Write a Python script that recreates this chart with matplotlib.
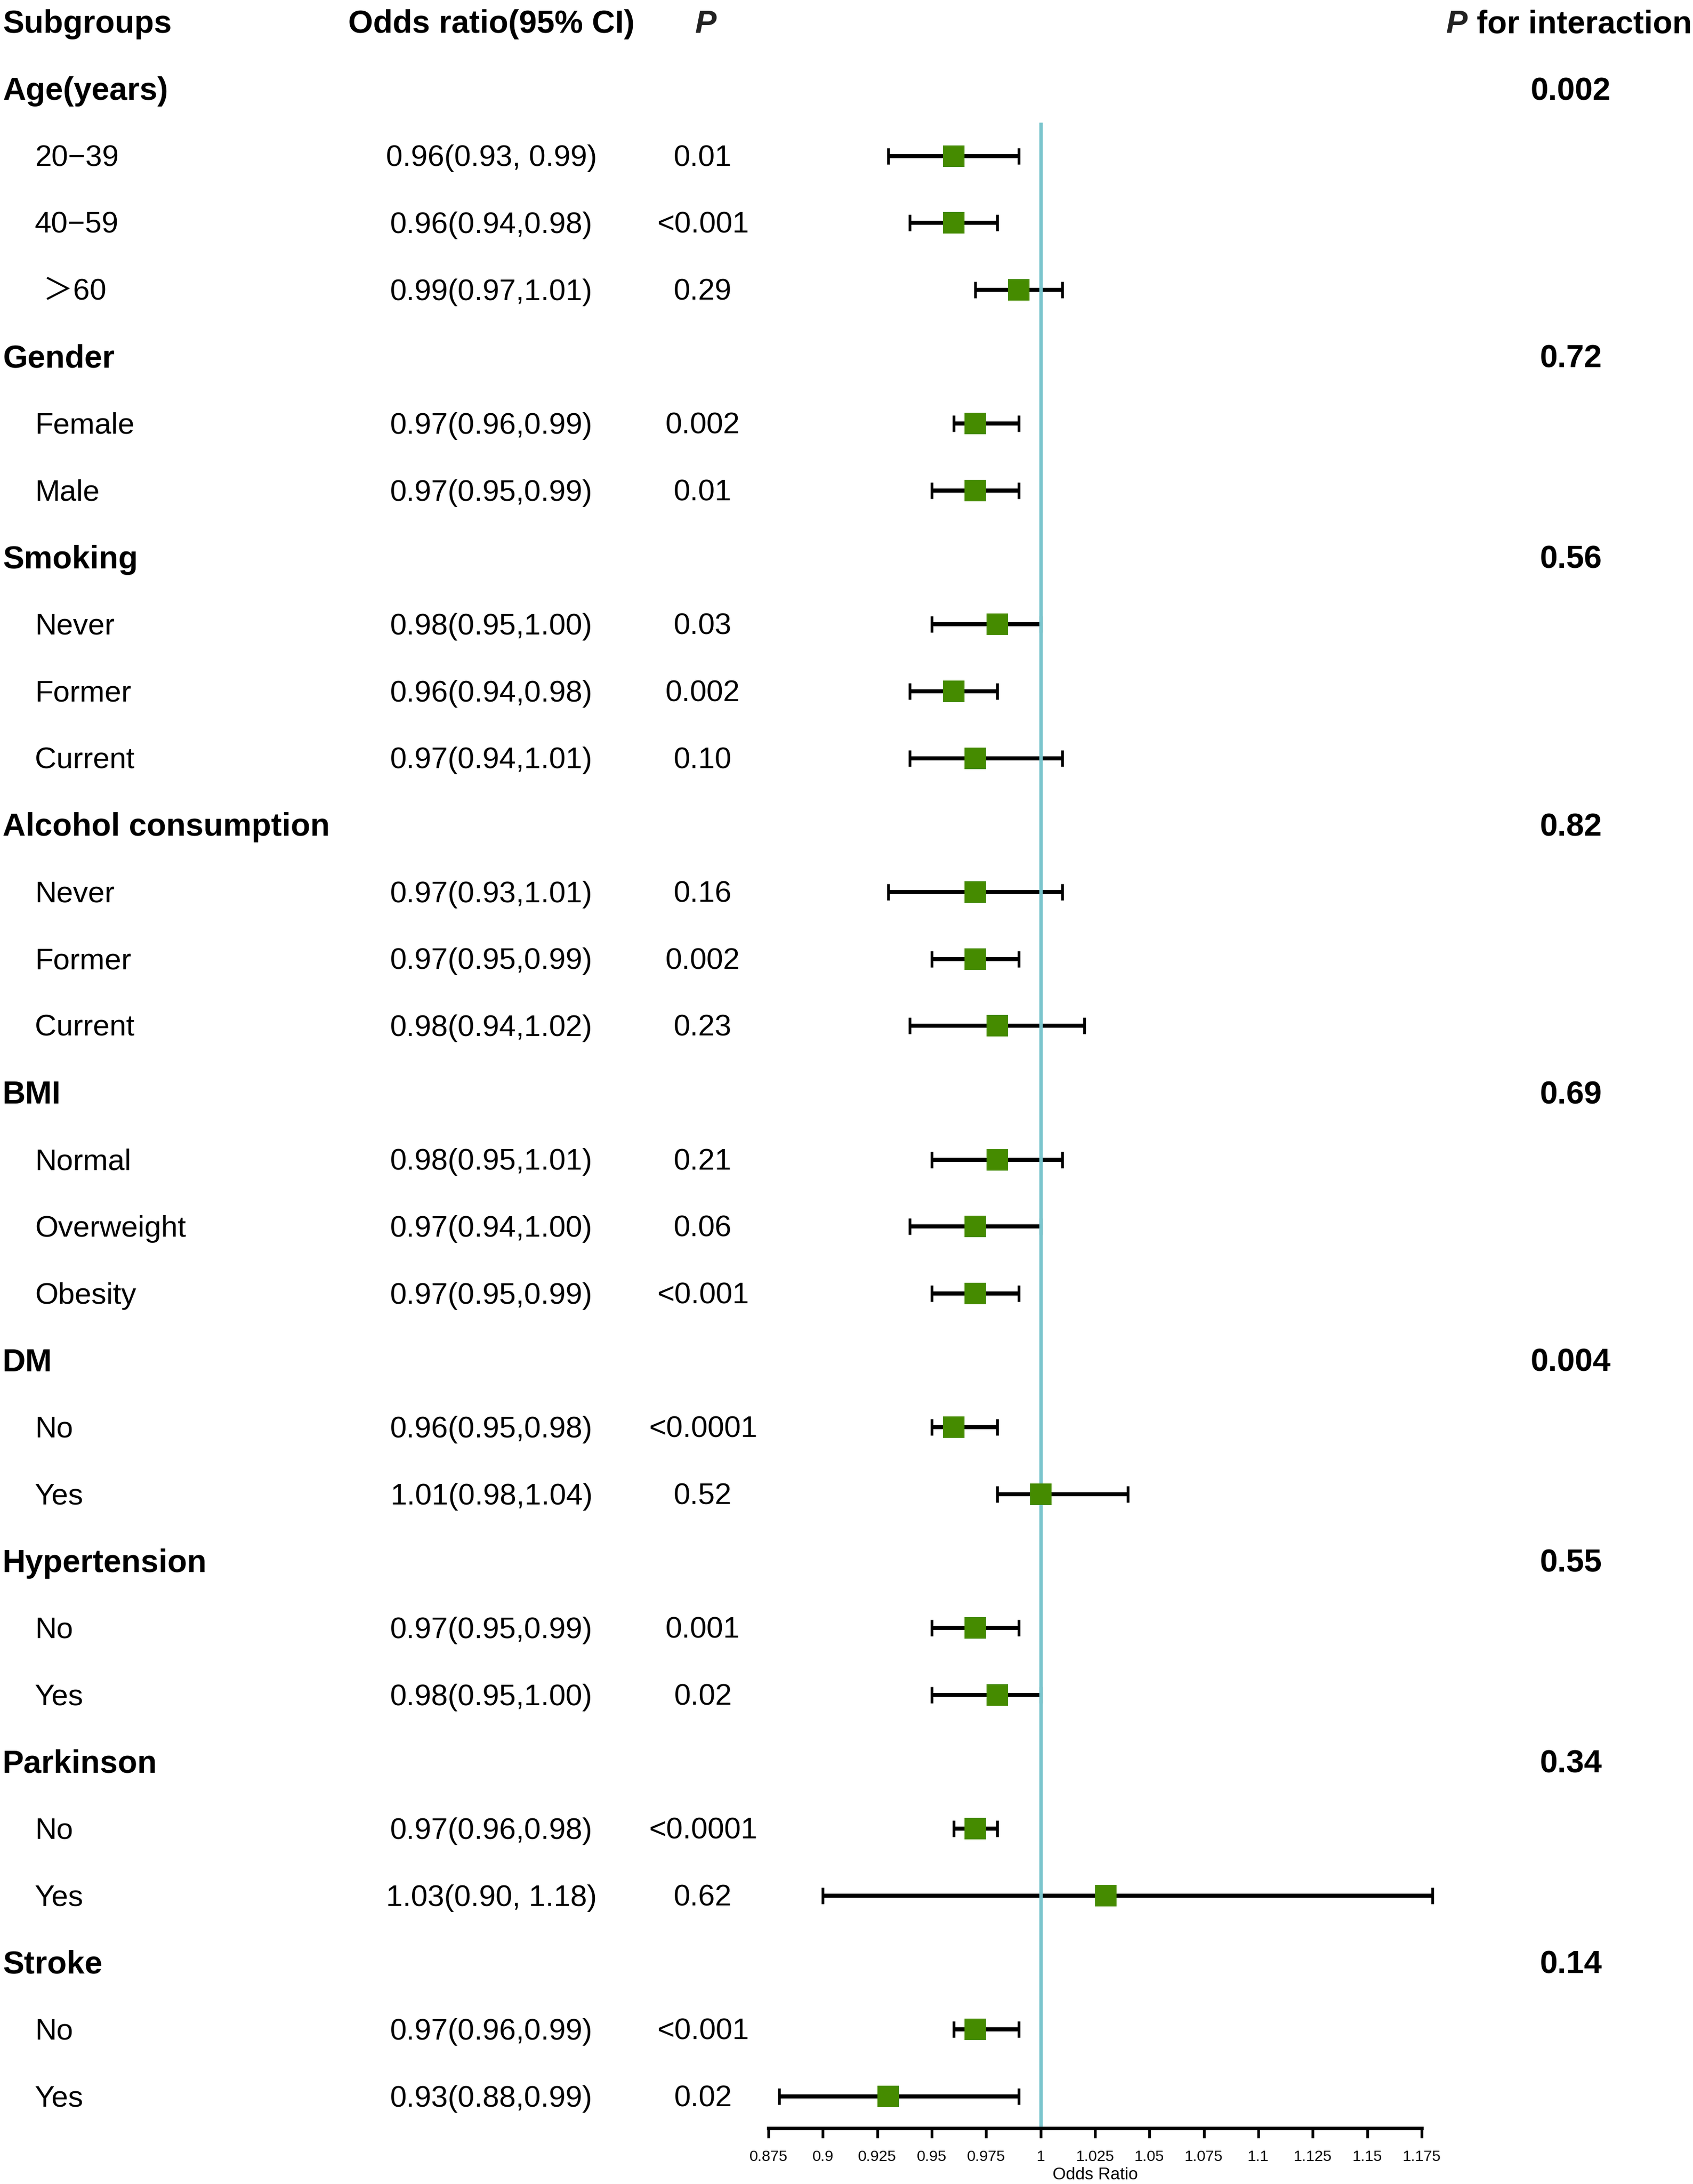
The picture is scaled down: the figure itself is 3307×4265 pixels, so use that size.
import matplotlib
matplotlib.use('Agg')
import matplotlib.pyplot as plt
import matplotlib.transforms as mtransforms
import numpy as np

plt.rcParams['font.family'] = ['Liberation Sans', 'Noto Sans CJK SC', 'DejaVu Sans']

# ---- data ----
groups = ['Age(years)', 'Gender', 'Smoking', 'Alcohol consumption', 'BMI',
          'DM', 'Hypertension', 'Parkinson', 'Stroke']
p_interaction = ['0.002', '0.72', '0.56', '0.82', '0.69', '0.004', '0.55', '0.34', '0.14']
n_levels = [3, 2, 3, 3, 3, 2, 2, 2, 2]

levels = ['20\u221239', '40\u221259', ' \uff1e60',
          'Female', 'Male',
          'Never', 'Former', 'Current',
          'Never', 'Former', 'Current',
          'Normal', 'Overweight', 'Obesity',
          'No', 'Yes',
          'No', 'Yes',
          'No', 'Yes',
          'No', 'Yes']
odds = [0.96, 0.96, 0.99,
        0.97, 0.97,
        0.98, 0.96, 0.97,
        0.97, 0.97, 0.98,
        0.98, 0.97, 0.97,
        0.96, 1.00,
        0.97, 0.98,
        0.97, 1.03,
        0.97, 0.93]
ci_low = [0.93, 0.94, 0.97,
          0.96, 0.95,
          0.95, 0.94, 0.94,
          0.93, 0.95, 0.94,
          0.95, 0.94, 0.95,
          0.95, 0.98,
          0.95, 0.95,
          0.96, 0.90,
          0.96, 0.88]
ci_high = [0.99, 0.98, 1.01,
           0.99, 0.99,
           1.00, 0.98, 1.01,
           1.01, 0.99, 1.02,
           1.01, 1.00, 0.99,
           0.98, 1.04,
           0.99, 1.00,
           0.98, 1.18,
           0.99, 0.99]
or_text = ['0.96(0.93, 0.99)', '0.96(0.94,0.98)', '0.99(0.97,1.01)',
           '0.97(0.96,0.99)', '0.97(0.95,0.99)',
           '0.98(0.95,1.00)', '0.96(0.94,0.98)', '0.97(0.94,1.01)',
           '0.97(0.93,1.01)', '0.97(0.95,0.99)', '0.98(0.94,1.02)',
           '0.98(0.95,1.01)', '0.97(0.94,1.00)', '0.97(0.95,0.99)',
           '0.96(0.95,0.98)', '1.01(0.98,1.04)',
           '0.97(0.95,0.99)', '0.98(0.95,1.00)',
           '0.97(0.96,0.98)', '1.03(0.90, 1.18)',
           '0.97(0.96,0.99)', '0.93(0.88,0.99)']
p_text = ['0.01', '<0.001', '0.29',
          '0.002', '0.01',
          '0.03', '0.002', '0.10',
          '0.16', '0.002', '0.23',
          '0.21', '0.06', '<0.001',
          '<0.0001', '0.52',
          '0.001', '0.02',
          '<0.0001', '0.62',
          '<0.001', '0.02']

# ---- row layout ----
group_rows = []
level_rows = []
r = 1
for n in n_levels:
    group_rows.append(r)
    r += 1
    for _ in range(n):
        level_rows.append(r)
        r += 1

odds = np.array(odds)
ci_low = np.array(ci_low)
ci_high = np.array(ci_high)

W, H = 3307, 4265
fig = plt.figure(figsize=(W / 300, H / 300), dpi=300)

ax_bottom = 1 - 4156 / H
ax = fig.add_axes([1501 / W, ax_bottom, (2777 - 1501) / W, 1 - ax_bottom])
row_px = 130.67
y_top = -43.3 / row_px
y_bot = y_top + (1 - ax_bottom) * H / row_px
ax.set_ylim(y_bot, y_top)
ax.set_xlim(0.875, 1.175)

ax.vlines(1, 1.5, y_bot, color='#7AC5CD', linewidth=1.6, zorder=2)
ax.errorbar(odds, level_rows, xerr=[odds - ci_low, ci_high - odds], fmt='none',
            ecolor='black', elinewidth=1.9, capsize=3.9, capthick=1.3,
            zorder=1, clip_on=False)
ax.plot(odds, level_rows, 's', color='#458B00', markersize=10,
        markeredgewidth=0, zorder=3, clip_on=False)

for s in ['left', 'top', 'right']:
    ax.spines[s].set_visible(False)
ax.spines['bottom'].set_linewidth(1.6)
ax.set_yticks([])
ticks = np.round(np.arange(0.875, 1.1751, 0.025), 3)
ax.set_xticks(ticks)
ax.set_xticklabels(['%g' % t for t in ticks])
ax.tick_params(axis='x', direction='out', length=4.6, width=1.3, labelsize=7.2, pad=5.5)
ax.set_xlabel('Odds Ratio', fontsize=8, labelpad=1.5)

# ---- text columns ----
tr = mtransforms.blended_transform_factory(fig.transFigure, ax.transData)
dy = 0.035  # small nudge so text sits on the marker line
x_group = 5 / W
x_level = 68 / W
x_or = 960 / W
x_p = 1373 / W
x_pint = 3068 / W

ax.text(x_group, dy, 'Subgroups', transform=tr, ha='left', va='center',
        fontsize=15, fontweight='bold', clip_on=False)
ax.text(x_or, dy, 'Odds ratio(95% CI)', transform=tr, ha='center', va='center',
        fontsize=15, fontweight='bold', clip_on=False)
ax.text(x_p + 6 / W, dy, 'P', transform=tr, ha='center', va='center', color='#222222',
        fontsize=15, fontweight='bold', fontstyle='italic', clip_on=False)
t_int = ax.text(3305 / W, dy, ' for interaction', transform=tr, ha='right', va='center',
                fontsize=15, fontweight='bold', clip_on=False)
fig.canvas.draw()
bb = t_int.get_window_extent(renderer=fig.canvas.get_renderer())
ax.text(bb.x0 / fig.bbox.width, dy, 'P', transform=tr, ha='right', va='center',
        color='#222222', fontsize=15, fontweight='bold', fontstyle='italic', clip_on=False)

for g, y, pi in zip(groups, group_rows, p_interaction):
    ax.text(x_group, y + dy, g, transform=tr, ha='left', va='center',
            fontsize=15, fontweight='bold', clip_on=False)
    ax.text(x_pint, y + dy, pi, transform=tr, ha='center', va='center',
            fontsize=15, fontweight='bold', clip_on=False)

for lv, y, ot, pt in zip(levels, level_rows, or_text, p_text):
    ax.text(x_level, y + dy, lv, transform=tr, ha='left', va='center',
            fontsize=14, clip_on=False)
    ax.text(x_or, y + dy, ot, transform=tr, ha='center', va='center',
            fontsize=14, clip_on=False)
    ax.text(x_p, y + dy, pt, transform=tr, ha='center', va='center',
            fontsize=14, clip_on=False)

fig.savefig('out.png', dpi=300, facecolor='white')
